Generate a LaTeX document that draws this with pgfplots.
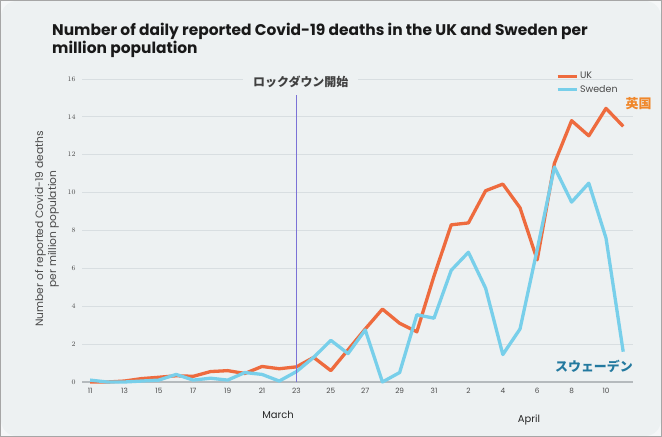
\documentclass[border=0pt]{standalone}
\usepackage{fontspec}
\setmainfont{Poppins}
\newfontfamily\jp{Noto Sans CJK JP}
\usepackage{pgfplots}
\pgfplotsset{compat=1.18}
\usepackage{pgfplotstable}
\definecolor{outerbg}{HTML}{F5F7F8}
\definecolor{bg}{HTML}{EDF1F2}
\definecolor{ukc}{HTML}{EE6B3E}
\definecolor{sec}{HTML}{78CFEA}
\definecolor{gridc}{HTML}{D8DEE1}
\definecolor{axisc}{HTML}{B5BABD}
\definecolor{vlinec}{HTML}{7B72D6}
\definecolor{tickc}{HTML}{4A4A4A}
\definecolor{jpuk}{HTML}{F0872A}
\definecolor{jpse}{HTML}{23799F}
\pgfplotstableread{
d v
0 0.0
1 0.0
2 0.05
3 0.18
4 0.25
5 0.33
6 0.3
7 0.55
8 0.6
9 0.45
10 0.82
11 0.7
12 0.8
13 1.3
14 0.6
15 1.7
16 2.8
17 3.85
18 3.1
19 2.65
20 5.6
21 8.3
22 8.4
23 10.1
24 10.45
25 9.2
26 6.45
27 11.55
28 13.8
29 13.0
30 14.45
31 13.5
}\uk
\pgfplotstableread{
d v
0 0.1
1 0.0
2 0.0
3 0.05
4 0.1
5 0.4
6 0.1
7 0.2
8 0.1
9 0.5
10 0.4
11 0.05
12 0.55
13 1.3
14 2.2
15 1.5
16 2.75
17 0.0
18 0.5
19 3.55
20 3.37
21 5.9
22 6.85
23 4.95
24 1.45
25 2.8
26 7.0
27 11.35
28 9.5
29 10.5
30 7.6
31 1.6
}\se
\begin{document}
\begin{tikzpicture}
\useasboundingbox (0bp,0bp) rectangle (662bp,437bp);
\fill[outerbg] (0bp,0bp) rectangle (662bp,437bp);
\fill[bg, rounded corners=16bp] (1bp,1bp) rectangle (661bp,436bp);
\draw[gray!70, line width=1bp] (0.5bp,0.5bp) rectangle (661.5bp,436.5bp);
\node[anchor=base west, inner sep=0, font=\bfseries\fontsize{15.5}{18}\selectfont, text=black!90] at (52bp,401bp) {Number of daily reported Covid-19 deaths in the UK and Sweden per};
\node[anchor=base west, inner sep=0, font=\bfseries\fontsize{15.5}{18}\selectfont, text=black!90] at (52bp,383bp) {million population};
\node[rotate=90, align=center, font=\fontsize{10.7}{13}\selectfont, text=tickc] at (47bp,208bp) {Number of reported Covid-19 deaths\\per million population};
\node[font=\fontsize{10}{11}\selectfont, text=black!85] at (278bp,22bp) {March};
\node[font=\fontsize{10}{11}\selectfont, text=black!85] at (529bp,17bp) {April};
\begin{axis}[
  at={(82bp,55bp)}, anchor=south west,
  scale only axis, width=551bp, height=303bp,
  xmin=-0.47, xmax=31.57, ymin=0, ymax=16,
  axis x line=bottom, axis y line=left,
  axis line style={-},
  x axis line style={draw=axisc, line width=1.5bp},
  y axis line style={draw=none},
  major tick length=0pt,
  ymajorgrids, grid style={gridc, line width=0.9bp},
  ytick={0,2,...,16},
  xtick={0,2,...,30},
  xticklabels={11,13,15,17,19,21,23,25,27,29,31,2,4,6,8,10},
  tick label style={font=\fontsize{7.3}{8}\selectfont, text=tickc},
  yticklabel style={xshift=-3bp},
  xticklabel style={yshift=-3bp},
  clip=false,
  legend style={at={(0.86,1.03)}, anchor=north west, draw=none, fill=none,
    font=\fontsize{9.5}{11}\selectfont, inner sep=0pt, row sep=1bp,
    nodes={text=tickc}},
  legend cell align=left,
  legend image code/.code={\draw[#1, line width=3bp] (0bp,0bp) -- (19bp,0bp);},
]
\addplot[ukc, line width=3.3bp, line join=round] table[x=d,y=v] {\uk};
\addlegendentry{UK}
\addplot[sec, line width=3.3bp, line join=round] table[x=d,y=v] {\se};
\addlegendentry{Sweden}
\addplot[vlinec, line width=1.8bp, forget plot] coordinates {(12,0) (12,15.15)};
\node[fill=bg, inner xsep=10bp, inner ysep=2bp, font=\jp\bfseries\fontsize{12}{13}\selectfont, text=black!75] at (axis cs:12.25,15.85) {ロックダウン開始};
\node[font=\jp\bfseries\fontsize{13}{14}\selectfont, text=jpuk] at (axis cs:31.9,14.7) {英国};
\node[font=\jp\bfseries\fontsize{13}{14}\selectfont, text=jpse] at (axis cs:29.3,0.85) {スウェーデン};
\end{axis}
\end{tikzpicture}
\end{document}
